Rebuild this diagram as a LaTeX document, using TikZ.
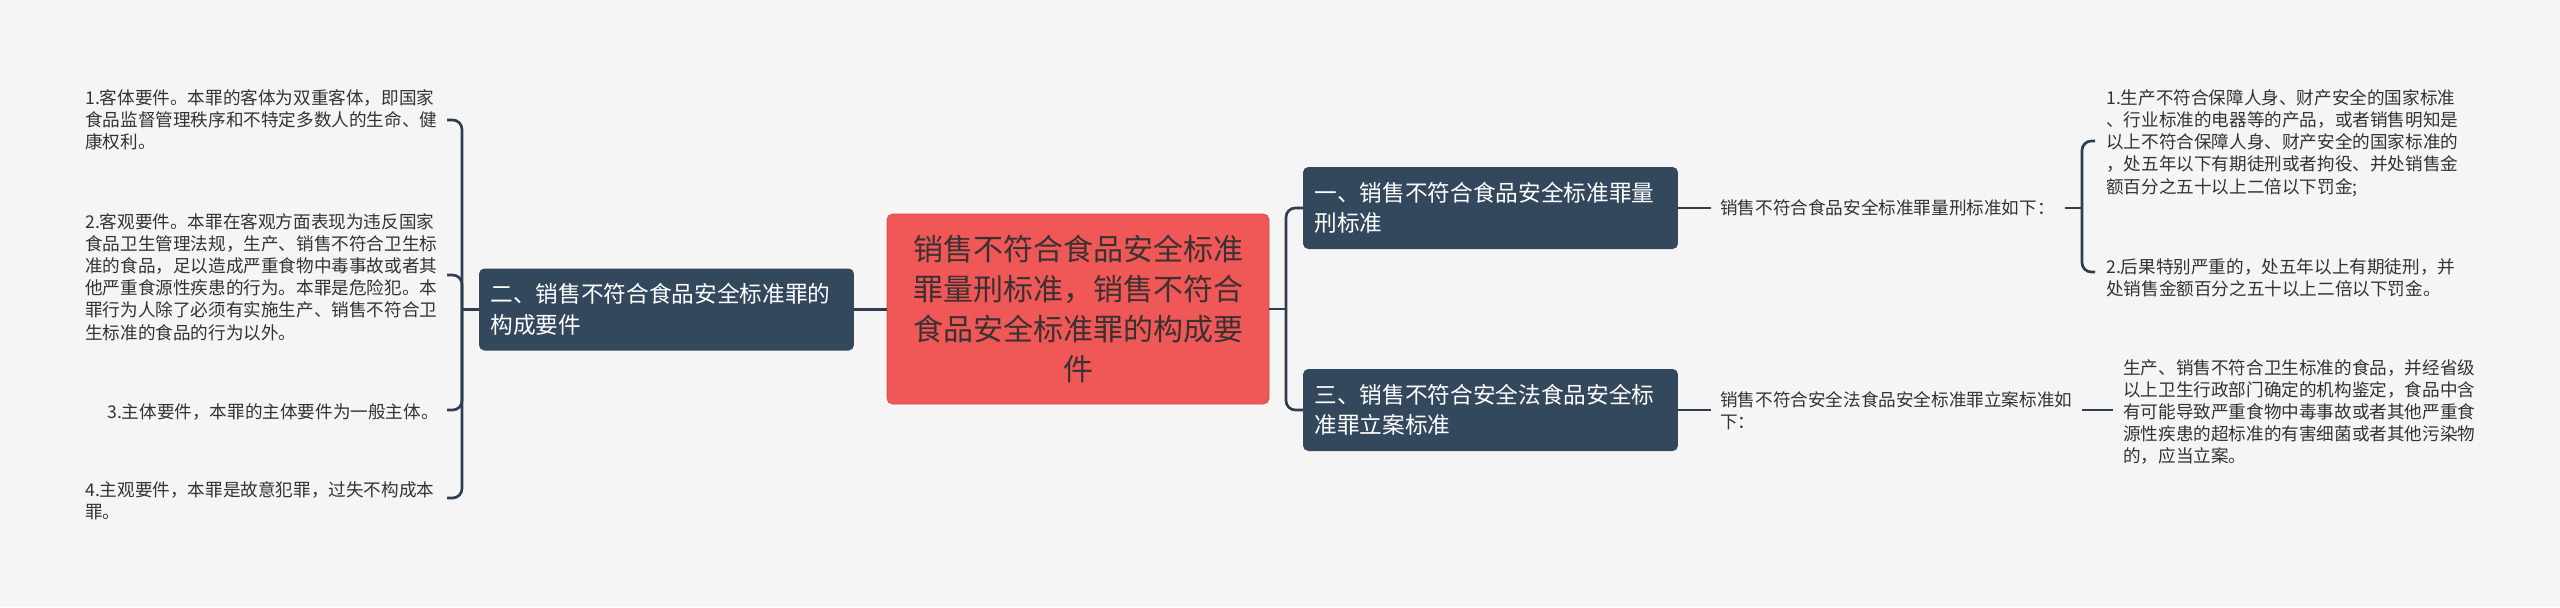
\documentclass[tikz,border=0pt]{standalone}
\usepackage{fontspec}
\setmainfont{Noto Sans CJK SC}
\definecolor{bgc}{HTML}{F5F5F5}
\definecolor{boxc}{HTML}{33475D}
\definecolor{linec}{HTML}{2C3E50}
\definecolor{rootc}{HTML}{F05757}
\definecolor{roottext}{HTML}{3A3232}
\definecolor{leafc}{HTML}{333333}
\begin{document}
\begin{tikzpicture}[x=0.75pt,y=-0.75pt,
  leaf/.style={anchor=west, inner sep=0pt, align=left, text=leafc, font=\fontsize{13.2pt}{16.6pt}\selectfont},
  branch/.style={fill=boxc, rounded corners=4pt, text=white, font=\fontsize{17pt}{22.8pt}\selectfont, align=left, text width=264pt, inner xsep=8.6pt, inner ysep=0pt, minimum height=61.5pt},
  rootbox/.style={fill=rootc, draw=rootc!85!black, line width=0.4pt, rounded corners=4pt, text=roottext, font=\fontsize{22.5pt}{30pt}\selectfont, align=center, minimum width=286.5pt, minimum height=142.5pt, inner sep=0pt},
  link/.style={draw=linec, line width=2pt, rounded corners=7pt}]
\useasboundingbox (0,0) rectangle (2560,607);
\fill[bgc] (0,0) rectangle (2560,607);

% nodes
\node[rootbox] (root) at (1078,309) {销售不符合食品安全标准\\罪量刑标准，销售不符合\\食品安全标准罪的构成要\\件};
\node[branch] (b2) at (666.5,309.5) {二、销售不符合食品安全标准罪的\\构成要件};
\node[branch] (b1) at (1490.5,208) {一、销售不符合食品安全标准罪量\\刑标准};
\node[branch] (b3) at (1490.5,410) {三、销售不符合安全法食品安全标\\准罪立案标准};

\node[leaf] (l1) at (85,120) {1.客体要件。本罪的客体为双重客体，即国家\\食品监督管理秩序和不特定多数人的生命、健\\康权利。};
\node[leaf] (l2) at (85,277) {2.客观要件。本罪在客观方面表现为违反国家\\食品卫生管理法规，生产、销售不符合卫生标\\准的食品，足以造成严重食物中毒事故或者其\\他严重食源性疾患的行为。本罪是危险犯。本\\罪行为人除了必须有实施生产、销售不符合卫\\生标准的食品的行为以外。};
\node[leaf] (l3) at (107,412) {3.主体要件，本罪的主体要件为一般主体。};
\node[leaf] (l4) at (85,501) {4.主观要件，本罪是故意犯罪，过失不构成本\\罪。};

\node[leaf] (m1) at (1720,208) {销售不符合食品安全标准罪量刑标准如下：};
\node[leaf] (m3) at (1720,411) {销售不符合安全法食品安全标准罪立案标准如\\下：};

\node[leaf] (r1) at (2106,143) {1.生产不符合保障人身、财产安全的国家标准\\、行业标准的电器等的产品，或者销售明知是\\以上不符合保障人身、财产安全的国家标准的\\，处五年以下有期徒刑或者拘役、并处销售金\\额百分之五十以上二倍以下罚金;};
\node[leaf] (r2) at (2106,277.5) {2.后果特别严重的，处五年以上有期徒刑，并\\处销售金额百分之五十以上二倍以下罚金。};
\node[leaf] (r3) at (2123,412) {生产、销售不符合卫生标准的食品，并经省级\\以上卫生行政部门确定的机构鉴定，食品中含\\有可能导致严重食物中毒事故或者其他严重食\\源性疾患的超标准的有害细菌或者其他污染物\\的，应当立案。};

% coordinates for free ends
\coordinate (lb) at (462,309.5);
\coordinate (t1) at (447,120);
\coordinate (t2) at (447,275);
\coordinate (t3) at (447,410);
\coordinate (t4) at (447,498);
\coordinate (rb) at (1286,309);
\coordinate (m1s) at (2065,208);
\coordinate (rb1) at (2082,208);
\coordinate (tr1) at (2095,141);
\coordinate (tr2) at (2095,272);
\coordinate (m3s) at (2082,410);

% connectors left
\draw[link] (root.west |- b2.east) -- (b2.east);
\draw[link] (b2.west) -- (lb);
\draw[link] (lb) |- (t1);
\draw[link] (lb) |- (t2);
\draw[link] (lb) |- (t3);
\draw[link] (lb) |- (t4);

% connectors right
\draw[link] (root.east) -- (rb);
\draw[link] (rb) |- (b1.west);
\draw[link] (rb) |- (b3.west);
\draw[link] (b1.east) -- ([xshift=-7pt]m1.west);
\draw[link] (b3.east) -- ([xshift=-7pt]m3.west |- b3.east);
\draw[link] (m1s) -- (rb1);
\draw[link] (rb1) |- (tr1);
\draw[link] (rb1) |- (tr2);
\draw[link] (m3s) -- ([xshift=-7.5pt]r3.west |- m3s);
\end{tikzpicture}
\end{document}
